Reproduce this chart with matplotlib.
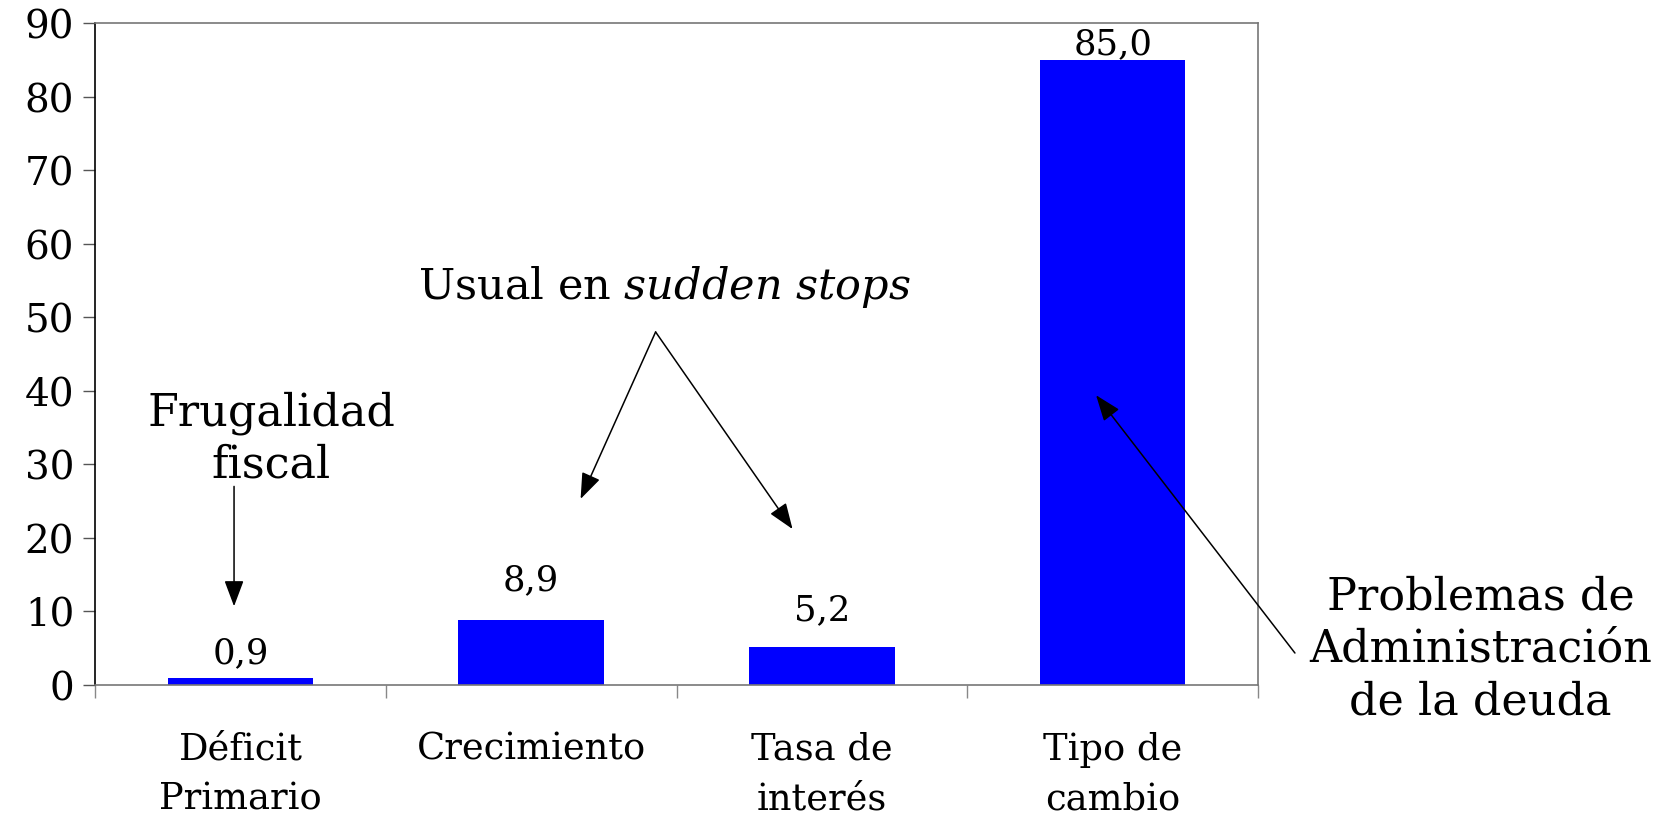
import matplotlib.pyplot as plt

# data
categorias = ['Déficit\nPrimario', 'Crecimiento', 'Tasa de\ninterés', 'Tipo de\ncambio']
valores = [0.9, 8.9, 5.2, 85.0]
etiquetas = ['0,9', '8,9', '5,2', '85,0']
yticks = [0, 10, 20, 30, 40, 50, 60, 70, 80, 90]

plt.rcParams['font.family'] = 'DejaVu Serif'
plt.rcParams['mathtext.fontset'] = 'custom'
plt.rcParams['mathtext.it'] = 'DejaVu Serif:italic'
plt.rcParams['mathtext.rm'] = 'DejaVu Serif'

fig = plt.figure(figsize=(16.68, 8.2), dpi=100)
ax = fig.add_axes([0.0570, 0.1634, 0.6972, 0.8073])

x = list(range(len(categorias)))
ax.bar(x, valores, width=0.5, color='#0000FF')

ax.set_xlim(-0.5, 3.5)
ax.set_ylim(0, 90)
ax.set_yticks(yticks)
ax.tick_params(axis='y', length=9, width=1, color='#555555', pad=6, labelsize=28)

# category labels at centers, tick marks at boundaries
ax.set_xticks(x)
ax.set_xticklabels(categorias, fontsize=26.5, linespacing=1.5)
ax.tick_params(axis='x', which='major', length=0, pad=33)
ax.set_xticks([-0.5, 0.5, 1.5, 2.5, 3.5], minor=True)
ax.tick_params(axis='x', which='minor', length=9, width=1, color='#888888')

ax.spines['left'].set_color('black')
ax.spines['left'].set_linewidth(1.2)
for s in ['top', 'right', 'bottom']:
    ax.spines[s].set_color('#777777')
    ax.spines[s].set_linewidth(1.2)

# value labels
offsets = [19, 29, 27, 12]
for xi, v, lab, off in zip(x, valores, etiquetas, offsets):
    ax.annotate(lab, (xi, v), xytext=(0, off), textcoords='offset points',
                ha='center', va='center', fontsize=25.5)

arrow = dict(arrowstyle='-|>,head_length=0.8,head_width=0.3', color='black',
             lw=1.1, mutation_scale=20, shrinkA=0, shrinkB=0)

# Frugalidad fiscal
ax.text(0.105, 33.6, 'Frugalidad\nfiscal', ha='center', va='center',
        fontsize=32, linespacing=1.25)
ax.annotate('', xy=(-0.022, 10.7), xytext=(-0.022, 27.0), arrowprops=arrow)

# Usual en sudden stops
ax.text(1.459, 54.2, r'Usual en $\mathit{sudden\ stops}$', ha='center', va='center',
        fontsize=31)
ax.annotate('', xy=(1.170, 25.3), xytext=(1.428, 48.0), arrowprops=arrow)
ax.annotate('', xy=(1.899, 21.2), xytext=(1.428, 48.0), arrowprops=arrow)

# Problemas de administracion de la deuda
ax.annotate('', xy=(2.943, 39.4), xytext=(3.627, 4.35), arrowprops=arrow,
            annotation_clip=False)
ax.text(4.266, 5.0, 'Problemas de\nAdministración\nde la deuda', ha='center',
        va='center', fontsize=32, linespacing=1.28, clip_on=False)

fig.savefig('out.png', dpi=100)
